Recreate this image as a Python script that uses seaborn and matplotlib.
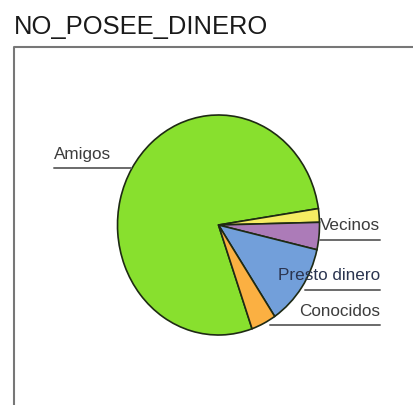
import matplotlib
matplotlib.use("Agg")
import matplotlib.pyplot as plt
import seaborn as sns

sns.set_theme(style="white")
plt.rcParams['font.family'] = ['Liberation Sans', 'DejaVu Sans']

title = "NO_POSEE_DINERO"
categories = ["Amigos", "Vecinos", "Otros", "Presto dinero", "Conocidos"]
values = [39, 1, 2, 6, 2]
colors = ["#88E02E", "#F6EC62", "#AC7BB8", "#729FDA", "#FBB042"]
shown_labels = ["Amigos", "Vecinos", "Presto dinero", "Conocidos"]

W, H = 414, 405
fig = plt.figure(figsize=(W / 100, H / 100), dpi=100)
fig.patch.set_facecolor("white")

# pie axes (slightly taller than wide, as in the reference)
cx, cy, rx, ry = 218.5, 225, 101, 110
pax = fig.add_axes([(cx - rx) / W, (H - cy - ry) / H, 2 * rx / W, 2 * ry / H])
pax.pie(values, colors=colors, startangle=-70.6, counterclock=False,
        wedgeprops=dict(edgecolor="#1e2a14", linewidth=1.2))
pax.set_aspect("auto")
pax.set_xlim(-1, 1)
pax.set_ylim(-1, 1)
pax.axis("off")

# overlay axes in pixel coordinates for title, frame and labels
ov = fig.add_axes([0, 0, 1, 1], facecolor="none")
ov.set_xlim(0, W)
ov.set_ylim(H, 0)
ov.axis("off")

ov.text(14, 34, title, fontsize=18.4, color="#1a1a1a", ha="left", va="baseline")
ov.plot([14, 14, W], [H, 47, 47], color="#777777", lw=1.5, solid_capstyle="butt")

txt = "#3c3c3c"
lc = "#6a6a6a"
ov.text(54, 154, shown_labels[0], fontsize=12.3, color=txt, ha="left", va="center")
ov.plot([54, 131], [168, 168], color=lc, lw=1.4)
ov.text(380, 226, shown_labels[1], fontsize=12.3, color=txt, ha="right", va="center")
ov.plot([320, 380], [240, 240], color=lc, lw=1.4)
ov.text(380, 276, shown_labels[2], fontsize=12.3, color="#2b3550", ha="right", va="center")
ov.plot([305, 380], [290, 290], color=lc, lw=1.4)
ov.text(380, 312, shown_labels[3], fontsize=12.3, color=txt, ha="right", va="center")
ov.plot([270, 380], [325, 325], color=lc, lw=1.4)

fig.savefig("out.png", dpi=100, facecolor="white")
